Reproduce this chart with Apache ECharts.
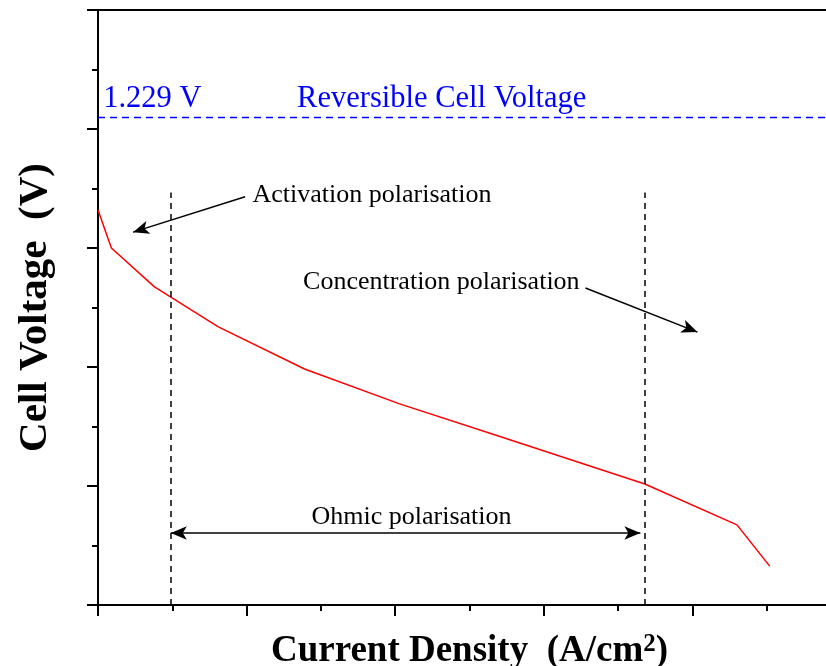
<!DOCTYPE html>
<html>
<head>
<meta charset="utf-8">
<script src="https://cdn.jsdelivr.net/npm/echarts@6/dist/echarts.min.js"></script>
<style>
  html, body { margin: 0; padding: 0; background: #fff; }
  #chart { width: 826px; height: 666px; }
</style>
</head>
<body>
<div id="chart"></div>
<script>
// polarisation curve
const currentDensity = [0, 0.09, 0.38, 0.81, 1.39, 2.03, 2.71, 3.68, 4.3, 4.52]
const cellVoltage = [0.996, 0.9, 0.802, 0.701, 0.595, 0.507, 0.424, 0.305, 0.202, 0.098]

// reversible voltage line
const reversibleVoltage = 1.229
const blueLabels = ['1.229 V', 'Reversible Cell Voltage']
const blueLabelPos = [[0.035, 1.276], [1.34, 1.276]]

// region boundaries (dashed verticals)
const regionBounds = [0.49, 3.68]
const regionTop = 1.04

// annotations
const noteTexts = ['Activation polarisation', 'Concentration polarisation', 'Ohmic polarisation']
const notePos = [[1.04, 1.034], [1.38, 0.814], [2.11, 0.222]]
const noteAlign = ['left', 'left', 'center']
const activationArrow = [[0.99, 1.029], [0.236, 0.94]]
const concentrationArrow = [[3.28, 0.799], [4.034, 0.688]]
const ohmicArrow = [[0.49, 0.1815], [3.65, 0.1815]]

const serif = '"Liberation Serif", "Times New Roman", serif'

const chart = echarts.init(document.getElementById('chart'))

const arrowLine = (pts, both) => [
  { coord: pts[0], symbol: both ? 'arrow' : 'none', symbolSize: [10, 16] },
  { coord: pts[1], symbol: 'arrow', symbolSize: [10, 16] }
]

const axisStyle = { color: '#000', width: 2 }

const option = {
  animation: false,
  grid: { left: 98, right: -15, top: 10, bottom: 61, containLabel: false, outerBoundsMode: 'none' },
  xAxis: [
    {
      type: 'value',
      min: 0,
      max: 5,
      interval: 1,
      name: 'Current Density  (A/cm{sup|2})',
      nameLocation: 'middle',
      nameGap: 27,
      nameTextStyle: {
        fontFamily: serif,
        fontWeight: 'bold',
        fontSize: 37,
        color: '#000',
        rich: {
          sup: { fontFamily: serif, fontWeight: 'bold', fontSize: 25, color: '#000', verticalAlign: 'top', padding: [0, 0, 14, 0] }
        }
      },
      axisLine: { onZero: false, lineStyle: axisStyle },
      axisTick: { length: 11, lineStyle: axisStyle },
      minorTick: { show: true, splitNumber: 2, length: 6, lineStyle: axisStyle },
      axisLabel: { show: false },
      splitLine: { show: false }
    },
    {
      type: 'value',
      position: 'top',
      min: 0,
      max: 5,
      axisLine: { show: true, onZero: false, lineStyle: axisStyle },
      axisTick: { show: false },
      axisLabel: { show: false },
      splitLine: { show: false }
    }
  ],
  yAxis: {
    type: 'value',
    min: 0,
    max: 1.5,
    interval: 0.3,
    name: 'Cell Voltage  (V)',
    nameLocation: 'middle',
    nameGap: 42,
    nameTextStyle: {
      fontFamily: serif,
      fontWeight: 'bold',
      fontSize: 41,
      color: '#000'
    },
    axisLine: { show: true, onZero: false, lineStyle: axisStyle },
    axisTick: { length: 11, lineStyle: axisStyle },
    minorTick: { show: true, splitNumber: 2, length: 6, lineStyle: axisStyle },
    axisLabel: { show: false },
    splitLine: { show: false }
  },
  series: [
    {
      name: 'curve',
      type: 'line',
      data: currentDensity.map((x, i) => [x, cellVoltage[i]]),
      symbol: 'none',
      lineStyle: { color: '#ff0000', width: 1.5 },
      markLine: {
        silent: true,
        symbol: 'none',
        label: { show: false },
        data: [
          [
            { coord: [regionBounds[0], 0], symbol: 'none' },
            { coord: [regionBounds[0], regionTop], symbol: 'none' }
          ],
          [
            { coord: [regionBounds[1], 0], symbol: 'none' },
            { coord: [regionBounds[1], regionTop], symbol: 'none' }
          ]
        ],
        lineStyle: { color: '#000', width: 1.5, type: [6, 5] }
      }
    },
    {
      name: 'reversible',
      type: 'line',
      data: [],
      markLine: {
        silent: true,
        symbol: 'none',
        label: { show: false },
        lineStyle: { color: '#0000ff', width: 1.4, type: [7, 5] },
        data: [{ yAxis: reversibleVoltage }]
      }
    },
    {
      name: 'arrows',
      type: 'line',
      data: [],
      markLine: {
        silent: true,
        label: { show: false },
        lineStyle: { color: '#000', width: 1.5, type: 'solid' },
        data: [
          arrowLine(activationArrow, false),
          arrowLine(concentrationArrow, false),
          arrowLine(ohmicArrow, true)
        ]
      }
    },
    {
      name: 'notes',
      type: 'scatter',
      symbolSize: 0,
      silent: true,
      itemStyle: { opacity: 1 },
      data: noteTexts.map((t, i) => ({
        name: t,
        value: notePos[i],
        label: { align: noteAlign[i] }
      })),
      label: {
        show: true,
        position: [0, 0],
        verticalAlign: 'middle',
        formatter: p => p.name,
        fontFamily: serif,
        fontSize: 26,
        color: '#000',
        textBorderWidth: 0,
        textBorderColor: 'transparent'
      }
    },
    {
      name: 'blueNotes',
      type: 'scatter',
      symbolSize: 0,
      silent: true,
      itemStyle: { opacity: 1 },
      data: blueLabels.map((t, i) => ({ name: t, value: blueLabelPos[i] })),
      label: {
        show: true,
        position: [0, 0],
        align: 'left',
        verticalAlign: 'middle',
        formatter: p => p.name,
        fontFamily: serif,
        fontSize: 30.5,
        color: '#0000ff',
        textBorderWidth: 0,
        textBorderColor: 'transparent'
      }
    }
  ]
}

chart.setOption(option)
</script>
</body>
</html>
